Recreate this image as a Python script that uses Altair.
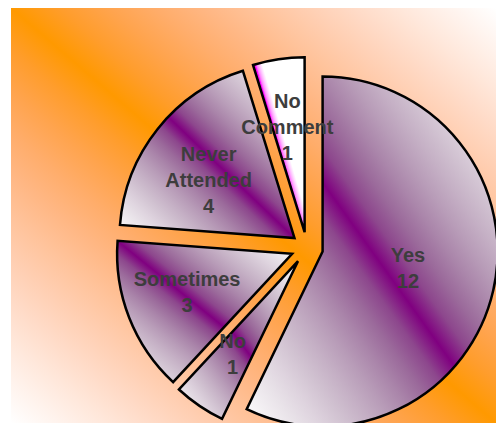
import altair as alt
import pandas as pd

# Survey answers, in clockwise order starting at 12 o'clock
answers = ["Yes", "No", "Sometimes", "Never Attended", "No Comment"]
counts = [12, 1, 3, 4, 1]

df = pd.DataFrame({
    "order": list(range(len(answers))),
    "answer": answers,
    "count": counts,
})
df["label"] = df["answer"].str.replace(" ", "\n") + "\n" + df["count"].astype(str)

# Layout (pixels, inside the plot area)
W, H = 485, 415
CX, CY = 296, 240      # pie centre
R = 175                # pie radius
EXPLODE = 16           # how far each wedge is pulled out


def _to_lin(c):
    c = c / 255
    return c / 12.92 if c <= 0.04045 else ((c + 0.055) / 1.055) ** 2.4


def _to_srgb(v):
    s = 12.92 * v if v <= 0.0031308 else 1.055 * v ** (1 / 2.4) - 0.055
    return max(0, min(255, round(s * 255)))


def _mix(hex_color, f):
    """Blend white towards hex_color by f, in linear light."""
    rgb = [int(hex_color[i:i + 2], 16) for i in (1, 3, 5)]
    out = [_to_srgb(1 + (_to_lin(c) - 1) * f) for c in rgb]
    return "#%02x%02x%02x" % tuple(out)


def diag_gradient(color, end=1.0, steps=10, falloff=1.0):
    """White -> color -> white across the box, bottom-left to top-right."""
    stops = []
    for i in range(steps + 1):
        d = 1 - i / steps
        stops.append(alt.GradientStop(color=_mix(color, 1 - d ** falloff),
                                      offset=0.5 * (1 - d)))
    for i in range(1, steps + 1):
        d = i / steps
        stops.append(alt.GradientStop(color=_mix(color, 1 - d ** falloff),
                                      offset=0.5 + (end - 0.5) * d))
    return alt.LinearGradient(gradient="linear", x1=0, y1=1, x2=1, y2=0, stops=stops)


bg_fill = diag_gradient("#ff9900", falloff=1.6)
wedge_fill = diag_gradient("#800080", falloff=1.2)
accent_fill = diag_gradient("#ff00ff", end=0.57)

base = (
    alt.Chart(df)
    .transform_joinaggregate(total="sum(count)")
    .transform_window(cum="sum(count)", sort=[alt.SortField("order")], frame=[None, 0])
    .transform_calculate(t1="2*PI*datum.cum/datum.total")
    .transform_calculate(t0="2*PI*(datum.cum-datum.count)/datum.total")
    .transform_calculate(mid="(datum.t0+datum.t1)/2")
    .transform_calculate(half="(datum.t1-datum.t0)/2")
    .transform_calculate(sx=f"{CX}+{EXPLODE}*sin(datum.mid)")
    .transform_calculate(sy=f"{CY}-{EXPLODE}*cos(datum.mid)")
    .transform_calculate(
        lr=f"{EXPLODE}+max({R}/2, 2*{R}*sin(datum.half)/(3*datum.half))"
    )
    .transform_calculate(lx=f"{CX}+datum.lr*sin(datum.mid)")
    .transform_calculate(ly=f"{CY}-datum.lr*cos(datum.mid)")
)

background = alt.Chart(pd.DataFrame({"k": [0]})).mark_rect(fill=bg_fill).encode(
    x=alt.value(0), x2=alt.value(W), y=alt.value(0), y2=alt.value(H)
)

wedges = base.mark_arc(
    outerRadius=R, stroke="black", strokeWidth=2.5, clip=True
).encode(
    x=alt.X("sx:Q", scale=None),
    y=alt.Y("sy:Q", scale=None),
    theta=alt.Theta("t0:Q", scale=None, stack=None),
    theta2="t1:Q",
    fill=alt.condition(
        "datum.answer == 'No Comment'", alt.value(accent_fill), alt.value(wedge_fill)
    ),
)

labels = base.mark_text(
    font="Liberation Sans",
    fontSize=20,
    fontWeight="bold",
    color="#3d3d3d",
    lineBreak="\n",
    lineHeight=26,
    align="center",
    baseline="middle",
    dy=-15,
).encode(
    x=alt.X("lx:Q", scale=None),
    y=alt.Y("ly:Q", scale=None),
    text="label:N",
)

chart = (
    alt.layer(background, wedges, labels)
    .properties(
        width=W,
        height=H,
        padding={"left": 11, "top": 8, "right": 0, "bottom": 0},
        autosize=alt.AutoSizeParams(type="none"),
    )
    .configure_view(stroke=None)
)

chart.save("out.html", embed_options={"renderer": "svg", "actions": False})
